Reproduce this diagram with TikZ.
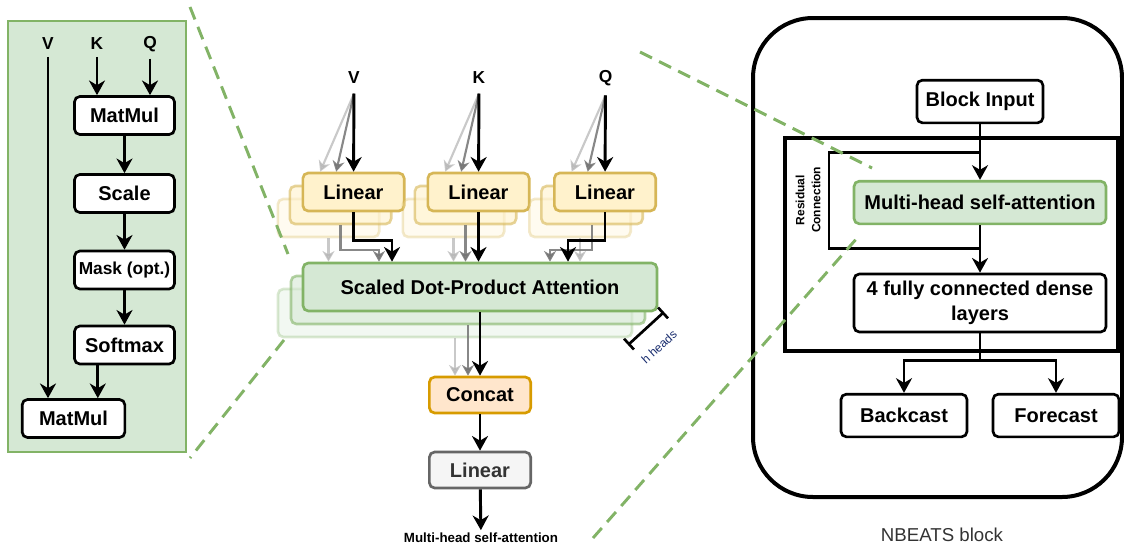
\documentclass[tikz,border=0pt]{standalone}
\usepackage{fontspec}
\setmainfont{Liberation Sans}
\usetikzlibrary{arrows.meta,calc}

\definecolor{attfill}{HTML}{D5E8D4}
\definecolor{attline}{HTML}{82B366}
\definecolor{linfill}{HTML}{FFF2CC}
\definecolor{linline}{HTML}{D6B656}
\definecolor{catfill}{HTML}{FFE6CC}
\definecolor{catline}{HTML}{D79B00}
\definecolor{outfill}{HTML}{F5F5F5}
\definecolor{outgray}{HTML}{666666}
\definecolor{textgray}{HTML}{333333}
\definecolor{headblue}{RGB}{25,45,110}

\tikzset{
  blk/.style={draw, line width=2pt, rounded corners=4pt, fill=white, inner sep=0pt,
    align=center, font=\bfseries\fontsize{15}{19}\selectfont},
  opbox/.style={blk, minimum width=75pt, minimum height=28.5pt},
  linbox/.style={blk, draw=linline, fill=linfill, minimum width=76pt, minimum height=28.5pt},
  attbox/.style={blk, draw=attline, fill=attfill, minimum width=265.5pt, minimum height=36pt},
  catbox/.style={blk, draw=catline, fill=catfill, minimum width=76pt, minimum height=27pt},
  nbbox/.style={blk, minimum width=94.5pt, minimum height=32pt},
  lbl/.style={font=\bfseries\fontsize{13}{15}\selectfont, inner sep=7pt},
  arr/.style={draw, line width=2.2pt, -{Stealth[length=11pt,width=12pt,inset=3.5pt]}},
  arrmid/.style={draw=black!55, line width=1.6pt, opacity=0.85,
    -{Stealth[length=8pt,width=9pt,inset=2.5pt]}},
  arrlt/.style={arrmid, draw=black!30, opacity=0.7},
  zoomline/.style={draw=attline, line width=2.2pt, dash pattern=on 10pt off 6pt},
}

\begin{document}
\begin{tikzpicture}[x=0.75pt, y=-0.75pt]
  \useasboundingbox (0,0) rectangle (1124,546);

  % --- scaled dot-product attention, inside view
  \draw[draw=attline, fill=attfill, line width=1pt] (8,21) rectangle (186,452);
  \node[lbl, inner sep=5pt] (dv) at (48,44) {V};
  \node[lbl, inner sep=5pt] (dk) at (97,44) {K};
  \node[lbl, inner sep=5pt] (dq) at (150,44) {Q};

  \node[opbox] (mm1) at (124.5,115.5) {MatMul};
  \node[opbox] (scale) at (124.5,193.5) {Scale};
  \node[opbox, font=\bfseries\fontsize{13}{15}\selectfont] (mask) at (124.5,270) {Mask (opt.)};
  \node[opbox] (sm) at (124.5,345) {Softmax};
  \node[opbox, minimum width=77pt] (mm2) at (73.5,418.5) {MatMul};

  \draw[arr] (dk) -- (dk |- mm1.north);
  \draw[arr] (dq) -- (dq |- mm1.north);
  \draw[arr] (dv) -- (dv |- mm2.north);
  \draw[arr] (mm1) -- (scale);
  \draw[arr] (scale) -- (mask);
  \draw[arr] (mask) -- (sm);
  \coordinate (smout) at ($(sm.south west)!0.24!(sm.south east)$);
  \draw[arr] (smout) -- (smout |- mm2.north);

  % --- multi-head attention, h stacked heads
  \foreach \n/\x/\t in {v/353.5/V,k/478.5/K,q/605/Q} {
    \node[lbl] (\n) at (\x+0.5,78) {\t};
    \node[linbox, opacity=0.3] (lin\n3) at (\x-25,218) {};
    \node[linbox, opacity=0.6] (lin\n2) at (\x-13,205) {};
    \node[linbox] (lin\n) at (\x,192) {Linear};
  }
  \node[attbox, opacity=0.3] (sdpa3) at (455,313) {};
  \node[attbox, opacity=0.6] (sdpa2) at (468,300) {};
  \node[attbox] (sdpa) at (480,287) {Scaled Dot-Product Attention};

  \foreach \n in {v,k,q} {
    \draw[arrlt] (\n.south) -- ([xshift=-25pt]lin\n.north);
    \draw[arrmid] (\n.south) -- ([xshift=-13pt]lin\n.north);
    \draw[arr] (\n) -- (lin\n);
    \draw[arrlt] (lin\n3.south) -- (lin\n3.south |- sdpa.north);
  }
  \draw[arrmid] (linv2.south) -- ++(0,25) -| ([xshift=-75.75pt]sdpa.north);
  \draw[arrmid] (link2.south) -- (link2.south |- sdpa.north);
  \draw[arrmid] (linq2.south) -- ++(0,25) -| ([xshift=52.5pt]sdpa.north);
  \draw[arr] (linv.south) -- ++(0,28) -| ([xshift=-66pt]sdpa.north);
  \draw[arr] (link) -- (link |- sdpa.north);
  \draw[arr] (linq.south) -- ++(0,28) -| ([xshift=66pt]sdpa.north);

  \node[catbox] (concat) at (480,395) {Concat};
  \node[blk, draw=outgray, fill=outfill, text=textgray, minimum width=76pt,
    minimum height=27pt] (lout) at (480,470) {Linear};
  \node[font=\bfseries\fontsize{10}{12}\selectfont, inner sep=2pt] (mhout) at (481,538)
    {Multi-head self-attention};

  \draw[arrlt] (sdpa3.south) -- (sdpa3.south |- concat.north);
  \draw[arrmid] (sdpa2.south) -- (sdpa2.south |- concat.north);
  \draw[arr] (sdpa) -- (concat);
  \draw[arr] (concat) -- (lout);
  \draw[arr] (lout) -- (mhout);

  % number of heads
  \coordinate (hb1) at (628,345);
  \coordinate (hb2) at (664,312);
  \draw[line width=2pt, {Bar[width=11pt]}-{Bar[width=11pt]}] (hb1) -- (hb2);
  \node[rotate=42, text=headblue, inner sep=1pt, font=\fontsize{9}{11}\selectfont] (hh)
    at (659,347) {h heads};

  % --- NBEATS block
  \draw[line width=3pt, rounded corners=45pt] (753,18) rectangle (1122,497);
  \node[font=\fontsize{14}{16}\selectfont, text=textgray] (nbl) at (942,535) {NBEATS block};
  \draw[line width=3pt] (785,138) rectangle (1118,351);

  \node[nbbox] (bi) at (980,101.5) {Block Input};
  \node[blk, draw=attline, fill=attfill, minimum width=189pt, minimum height=32pt] (mhsa)
    at (980,202.5) {Multi-head self-attention};
  \node[blk, minimum width=189pt, minimum height=43.5pt] (dense) at (980,303)
    {4 fully connected dense\\layers};
  \node[nbbox] (back) at (904,415.5) {Backcast};
  \node[nbbox] (fore) at (1056,415.5) {Forecast};

  \draw[arr] (bi) -- (mhsa);
  \draw[arr] (mhsa) -- (dense);
  \coordinate (split) at ($(dense.south)+(0,27)$);
  \draw[line width=2.2pt] (dense.south) -- (split);
  \draw[arr] (split) -| (back.north);
  \draw[arr] (split) -| (fore.north);

  \coordinate (rtop) at ($(bi.south)+(0,28)$);
  \coordinate (rbot) at ($(mhsa.south)+(0,23)$);
  \draw[line width=2pt] (rtop) -- ++(-151,0) |- (rbot);
  \node[rotate=90, align=center, font=\bfseries\fontsize{9}{12}\selectfont] (res) at (808,200)
    {Residual\\Connection};

  % zoom guides
  \draw[zoomline] (190,7) -- (288,254);
  \draw[zoomline] (284,340) -- (190,458);
  \draw[zoomline] (640,52) -- (872,168);
  \draw[zoomline] (593,538) -- (858,237);
\end{tikzpicture}
\end{document}
